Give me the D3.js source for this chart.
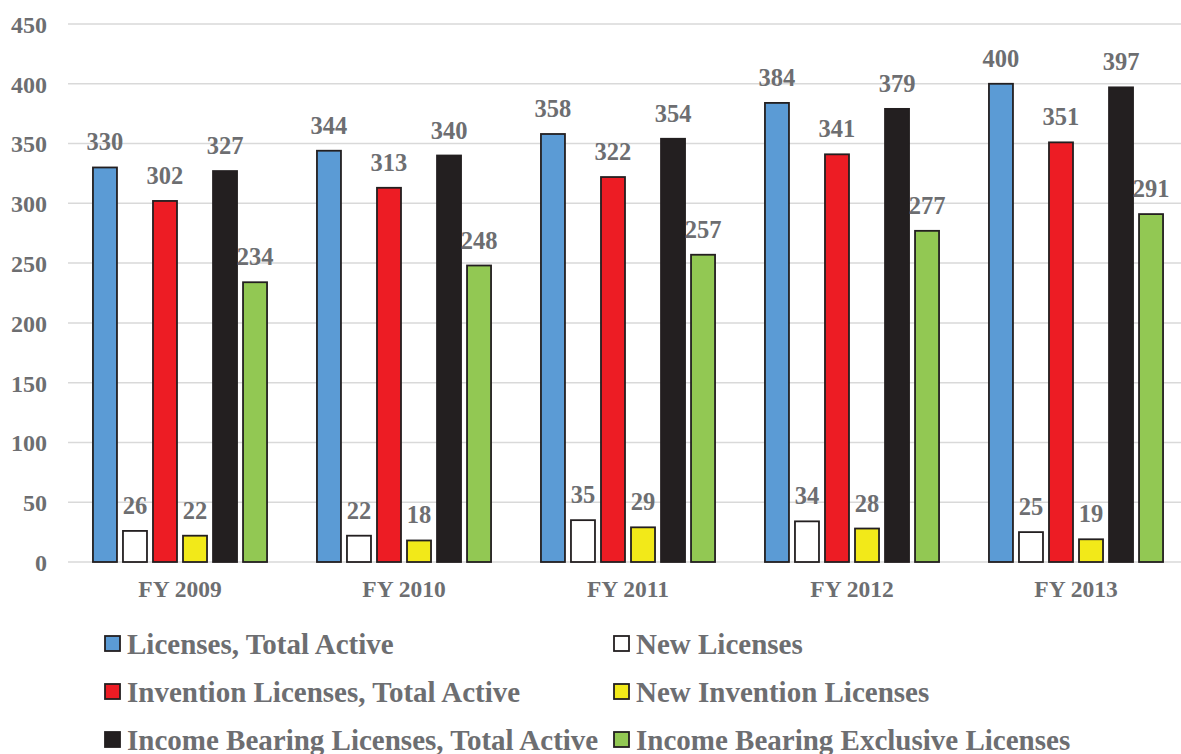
<!DOCTYPE html>
<html>
<head>
<meta charset="utf-8">
<script src="https://cdn.jsdelivr.net/npm/d3@7"></script>
<style>
  body { margin: 0; background: #fff; }
  text { font-family: "Liberation Serif", "Times New Roman", serif; font-weight: bold; fill: #6d6e71; }
</style>
</head>
<body>
<div id="chart"></div>
<script>
// Chart data
const years = ["FY 2009", "FY 2010", "FY 2011", "FY 2012", "FY 2013"];
const seriesNames = [
    "Licenses, Total Active",
    "New Licenses",
    "Invention Licenses, Total Active",
    "New Invention Licenses",
    "Income Bearing Licenses, Total Active",
    "Income Bearing Exclusive Licenses"
];
const licensesTotal = [330, 344, 358, 384, 400];
const newLicenses = [26, 22, 35, 34, 25];
const inventionTotal = [302, 313, 322, 341, 351];
const newInvention = [22, 18, 29, 28, 19];
const incomeTotal = [327, 340, 354, 379, 397];
const incomeExclusive = [234, 248, 257, 277, 291];
const yTicks = [0, 50, 100, 150, 200, 250, 300, 350, 400, 450];

const seriesValues = [licensesTotal, newLicenses, inventionTotal, newInvention, incomeTotal, incomeExclusive];
const colors = ["#5b9bd5", "#ffffff", "#ed1c24", "#f2e919", "#231f20", "#92c853"];

const width = 1181, height = 754;
const svg = d3.select("#chart").append("svg")
    .attr("width", width)
    .attr("height", height);

// Scales
let x0 = d3.scaleBand()
    .domain(years)
    .range([68, 1188])
    .paddingInner(0.196)
    .paddingOuter(0.098);

let x1 = d3.scaleBand()
    .domain(d3.range(seriesNames.length))
    .range([0, x0.bandwidth()])
    .paddingInner(0.2)
    .paddingOuter(0.1);

let y = d3.scaleLinear()
    .domain([0, 450])
    .range([562, 24]);

// Gridlines
svg.append("g")
    .selectAll("line")
    .data(yTicks)
    .join("line")
    .attr("x1", 68)
    .attr("x2", width)
    .attr("y1", d => y(d))
    .attr("y2", d => y(d))
    .attr("stroke", "#d9d9d9")
    .attr("stroke-width", 1.5);

// Y axis labels
let yAxis = d3.axisLeft(y).tickValues(yTicks).tickSize(0).tickPadding(0);
svg.append("g")
    .attr("transform", "translate(47,0)")
    .call(yAxis)
    .call(g => g.select(".domain").remove())
    .selectAll("text")
    .style("font-size", "24px")
    .attr("dy", "0.35em");

// X axis labels
let xAxis = d3.axisBottom(x0).tickSize(0).tickPadding(0);
svg.append("g")
    .attr("transform", "translate(0,597)")
    .call(xAxis)
    .call(g => g.select(".domain").remove())
    .selectAll("text")
    .style("font-size", "23.5px")
    .attr("dy", 0);

// Bars
let groups = svg.append("g")
    .selectAll("g")
    .data(years)
    .join("g")
    .attr("transform", d => `translate(${x0(d)},0)`);

groups.selectAll("rect")
    .data((d, i) => seriesValues.map((vals, s) => ({s: s, v: vals[i]})))
    .join("rect")
    .attr("x", d => x1(d.s))
    .attr("width", x1.bandwidth())
    .attr("y", d => y(d.v))
    .attr("height", d => y(0) - y(d.v))
    .attr("fill", d => colors[d.s])
    .attr("stroke", "#231f20")
    .attr("stroke-width", 1.8);

// Value labels above bars
groups.selectAll("text.value")
    .data((d, i) => seriesValues.map((vals, s) => ({s: s, v: vals[i]})))
    .join("text")
    .attr("class", "value")
    .attr("x", d => x1(d.s) + x1.bandwidth() / 2)
    .attr("y", d => y(d.v) - 17)
    .attr("text-anchor", "middle")
    .style("font-size", "24.5px")
    .text(d => d.v);

// Legend, two columns
let legendCols = [105, 614];
let legendRows = [654, 702, 750];
let legend = svg.append("g")
    .selectAll("g")
    .data(seriesNames)
    .join("g")
    .attr("transform", (d, i) => `translate(${legendCols[i % 2]},${legendRows[Math.floor(i / 2)]})`);

legend.append("rect")
    .attr("x", 0)
    .attr("y", -18)
    .attr("width", 15)
    .attr("height", 15)
    .attr("fill", (d, i) => colors[i])
    .attr("stroke", "#231f20")
    .attr("stroke-width", 1.8);

legend.append("text")
    .attr("x", 22)
    .attr("y", 0)
    .style("font-size", "29px")
    .text(d => d);
</script>
</body>
</html>
